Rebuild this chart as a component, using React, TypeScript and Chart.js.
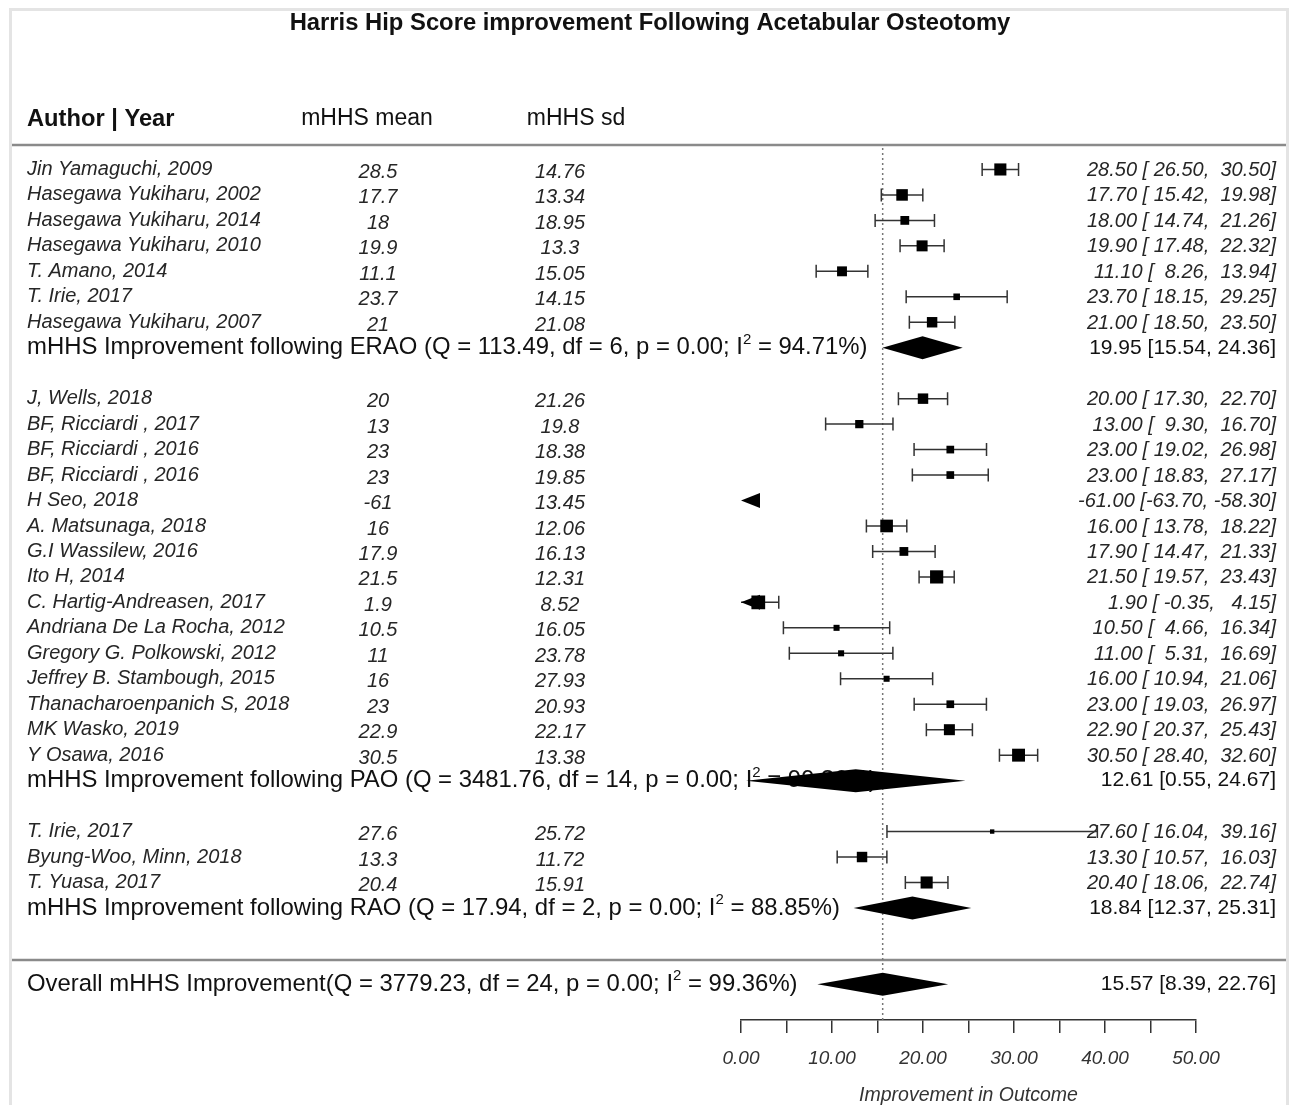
import React, { useEffect, useRef } from "react";
import { Chart, registerables } from "chart.js";

Chart.register(...registerables);

const FONT = "'Liberation Sans', Arial, Helvetica, sans-serif";

const titleText = "Harris Hip Score improvement Following Acetabular Osteotomy";
const headerLabels = ["Author | Year", "mHHS mean", "mHHS sd"];
const axisTitle = "Improvement in Outcome";
const axisMin = 0;
const axisMax = 50;
const axisStep = 5;
const axisLabelStep = 10;

const authors = [
  "Jin Yamaguchi, 2009",
  "Hasegawa Yukiharu, 2002",
  "Hasegawa Yukiharu, 2014",
  "Hasegawa Yukiharu, 2010",
  "T. Amano, 2014",
  "T. Irie, 2017",
  "Hasegawa Yukiharu, 2007",
  "J, Wells, 2018",
  "BF, Ricciardi , 2017",
  "BF, Ricciardi , 2016",
  "BF, Ricciardi , 2016",
  "H Seo, 2018",
  "A. Matsunaga, 2018",
  "G.I Wassilew, 2016",
  "Ito H, 2014",
  "C. Hartig-Andreasen, 2017",
  "Andriana De La Rocha, 2012",
  "Gregory G. Polkowski, 2012",
  "Jeffrey B. Stambough, 2015",
  "Thanacharoenpanich S, 2018",
  "MK Wasko, 2019",
  "Y Osawa, 2016",
  "T. Irie, 2017",
  "Byung-Woo, Minn, 2018",
  "T. Yuasa, 2017",
];
const means = [28.5, 17.7, 18, 19.9, 11.1, 23.7, 21, 20, 13, 23, 23, -61, 16, 17.9, 21.5, 1.9, 10.5, 11, 16, 23, 22.9, 30.5, 27.6, 13.3, 20.4];
const sds = [14.76, 13.34, 18.95, 13.3, 15.05, 14.15, 21.08, 21.26, 19.8, 18.38, 19.85, 13.45, 12.06, 16.13, 12.31, 8.52, 16.05, 23.78, 27.93, 20.93, 22.17, 13.38, 25.72, 11.72, 15.91];
const ciLower = [26.5, 15.42, 14.74, 17.48, 8.26, 18.15, 18.5, 17.3, 9.3, 19.02, 18.83, -63.7, 13.78, 14.47, 19.57, -0.35, 4.66, 5.31, 10.94, 19.03, 20.37, 28.4, 16.04, 10.57, 18.06];
const ciUpper = [30.5, 19.98, 21.26, 22.32, 13.94, 29.25, 23.5, 22.7, 16.7, 26.98, 27.17, -58.3, 18.22, 21.33, 23.43, 4.15, 16.34, 16.69, 21.06, 26.97, 25.43, 32.6, 39.16, 16.03, 22.74];
const weights = [4.4, 4.2, 3.2, 4.0, 3.6, 2.4, 3.8, 3.8, 3.0, 2.8, 2.8, 4.0, 4.6, 3.2, 4.8, 5.0, 2.2, 2.2, 2.2, 2.8, 4.0, 4.7, 1.6, 3.8, 4.4];

const groupNames = ["ERAO", "PAO", "RAO"];
const groupSizes = [7, 15, 3];
const groupEst = [19.95, 12.61, 18.84];
const groupLower = [15.54, 0.55, 12.37];
const groupUpper = [24.36, 24.67, 25.31];
const groupQ = [113.49, 3481.76, 17.94];
const groupDf = [6, 14, 2];
const groupP = [0, 0, 0];
const groupI2 = [94.71, 99.36, 88.85];

const overallEst = 15.57;
const overallLower = 8.39;
const overallUpper = 22.76;
const overallQ = 3779.23;
const overallDf = 24;
const overallP = 0;
const overallI2 = 99.36;

// ---- row layout (derived from group structure) ----
const studyRows: number[] = [];
const groupRows: number[] = [];
let rowCursor = 0;
groupSizes.forEach((n) => {
  for (let i = 0; i < n; i++) studyRows.push(rowCursor++);
  groupRows.push(rowCursor++);
  rowCursor++;
});
const overallRow = rowCursor + 1;
const separatorRow = rowCursor + 0.04;

const pad6 = (v: number) => {
  const s = v.toFixed(2);
  return s.length >= 6 ? s : " ".repeat(6 - s.length) + s;
};
const studyCI = (i: number) => `${means[i].toFixed(2)} [${pad6(ciLower[i])}, ${pad6(ciUpper[i])}]`;
const sumCI = (e: number, l: number, u: number) => `${e.toFixed(2)} [${l.toFixed(2)}, ${u.toFixed(2)}]`;

const STUDY_FONT = `italic 20px ${FONT}`;
const SUM_FONT = `23.9px ${FONT}`;
const SUM_SUP_FONT = `15px ${FONT}`;
const SUMR_FONT = `21px ${FONT}`;
const HEAD_FONT = `23px ${FONT}`;
const HEAD_BOLD = `bold 23.7px ${FONT}`;
const TITLE_FONT = `bold 23.8px ${FONT}`;

const COL_AUTHOR = 27;
const COL_MEAN = 378;
const COL_SD = 560;
const COL_CI = 1276;
const SQUARE_SCALE = 2.75;

function drawStatLabel(ctx: CanvasRenderingContext2D, x: number, y: number, before: string, after: string) {
  ctx.textAlign = "left";
  ctx.font = SUM_FONT;
  ctx.fillText(before, x, y);
  let w = ctx.measureText(before).width;
  ctx.font = SUM_SUP_FONT;
  ctx.fillText("2", x + w, y - 8);
  w += ctx.measureText("2").width;
  ctx.font = SUM_FONT;
  ctx.fillText(after, x + w, y);
}

function diamond(ctx: CanvasRenderingContext2D, xs: any, y: number, e: number, l: number, u: number) {
  const h = 11.5;
  ctx.beginPath();
  ctx.moveTo(xs.getPixelForValue(l), y);
  ctx.lineTo(xs.getPixelForValue(e), y - h);
  ctx.lineTo(xs.getPixelForValue(u), y);
  ctx.lineTo(xs.getPixelForValue(e), y + h);
  ctx.closePath();
  ctx.fillStyle = "#000";
  ctx.fill();
}

function arrow(ctx: CanvasRenderingContext2D, x: number, y: number, dir: number) {
  ctx.beginPath();
  ctx.moveTo(x, y);
  ctx.lineTo(x - dir * 19, y - 7.5);
  ctx.lineTo(x - dir * 19, y + 7.5);
  ctx.closePath();
  ctx.fillStyle = "#000";
  ctx.fill();
}

const forestPlugin = {
  id: "forestPlugin",
  beforeDatasetsDraw(chart: any) {
    const ctx: CanvasRenderingContext2D = chart.ctx;
    const xs = chart.scales.x;
    const ys = chart.scales.y;
    ctx.save();
    ctx.textBaseline = "middle";

    // title
    ctx.fillStyle = "#111";
    ctx.font = TITLE_FONT;
    ctx.textAlign = "center";
    ctx.fillText(titleText, 650, 23);

    // headers
    ctx.font = HEAD_BOLD;
    ctx.textAlign = "left";
    ctx.fillText(headerLabels[0], COL_AUTHOR, 119);
    ctx.font = HEAD_FONT;
    ctx.textAlign = "center";
    ctx.fillText(headerLabels[1], 367, 119);
    ctx.fillText(headerLabels[2], 576, 119);

    // separators
    ctx.strokeStyle = "#8a8a8a";
    ctx.lineWidth = 2.5;
    const sepY1 = ys.top + 1;
    const sepY2 = ys.getPixelForValue(separatorRow);
    [sepY1, sepY2].forEach((yy) => {
      ctx.beginPath();
      ctx.moveTo(12, yy);
      ctx.lineTo(1286, yy);
      ctx.stroke();
    });

    // reference dotted line
    const rx = xs.getPixelForValue(overallEst);
    ctx.strokeStyle = "#777";
    ctx.lineWidth = 1.5;
    ctx.setLineDash([2, 3]);
    ctx.beginPath();
    ctx.moveTo(rx, ys.top + 4);
    ctx.lineTo(rx, ys.bottom);
    ctx.stroke();
    ctx.setLineDash([]);

    // study text
    ctx.fillStyle = "#262626";
    authors.forEach((a, i) => {
      const y = ys.getPixelForValue(studyRows[i]);
      ctx.font = STUDY_FONT;
      ctx.textAlign = "left";
      ctx.fillText(a, COL_AUTHOR, y);
      ctx.textAlign = "center";
      ctx.fillText(String(means[i]), COL_MEAN, y + 3);
      ctx.fillText(String(sds[i]), COL_SD, y + 3);
      ctx.textAlign = "right";
      ctx.fillText(studyCI(i), COL_CI, y + 1);
    });

    // group summaries text
    ctx.fillStyle = "#111";
    groupNames.forEach((g, k) => {
      const y = ys.getPixelForValue(groupRows[k]);
      drawStatLabel(
        ctx,
        COL_AUTHOR,
        y,
        `mHHS Improvement following ${g} (Q = ${groupQ[k].toFixed(2)}, df = ${groupDf[k]}, p = ${groupP[k].toFixed(2)}; I`,
        ` = ${groupI2[k].toFixed(2)}%)`
      );
      ctx.font = SUMR_FONT;
      ctx.textAlign = "right";
      ctx.fillText(sumCI(groupEst[k], groupLower[k], groupUpper[k]), COL_CI, y);
    });
    const oy = ys.getPixelForValue(overallRow);
    drawStatLabel(
      ctx,
      COL_AUTHOR,
      oy,
      `Overall mHHS Improvement(Q = ${overallQ.toFixed(2)}, df = ${overallDf}, p = ${overallP.toFixed(2)}; I`,
      ` = ${overallI2.toFixed(2)}%)`
    );
    ctx.font = SUMR_FONT;
    ctx.textAlign = "right";
    ctx.fillText(sumCI(overallEst, overallLower, overallUpper), COL_CI, oy);

    // error bars
    ctx.strokeStyle = "#333";
    ctx.lineWidth = 1.5;
    const lo = xs.min;
    const hi = xs.max;
    authors.forEach((_, i) => {
      const y = ys.getPixelForValue(studyRows[i]);
      const l = ciLower[i];
      const u = ciUpper[i];
      if (u < lo) {
        arrow(ctx, xs.getPixelForValue(lo), y, -1);
        return;
      }
      if (l > hi) {
        arrow(ctx, xs.getPixelForValue(hi), y, 1);
        return;
      }
      const a = xs.getPixelForValue(Math.max(l, lo));
      const b = xs.getPixelForValue(Math.min(u, hi));
      ctx.beginPath();
      ctx.moveTo(a, y);
      ctx.lineTo(b, y);
      if (l >= lo) {
        ctx.moveTo(a, y - 6.5);
        ctx.lineTo(a, y + 6.5);
      }
      if (u <= hi) {
        ctx.moveTo(b, y - 6.5);
        ctx.lineTo(b, y + 6.5);
      }
      ctx.stroke();
      if (l < lo) arrow(ctx, a, y, -1);
      if (u > hi) arrow(ctx, b, y, 1);
    });
    ctx.restore();
  },
  afterDatasetsDraw(chart: any) {
    const ctx: CanvasRenderingContext2D = chart.ctx;
    const xs = chart.scales.x;
    const ys = chart.scales.y;
    ctx.save();
    groupNames.forEach((_, k) => {
      diamond(ctx, xs, ys.getPixelForValue(groupRows[k]), groupEst[k], groupLower[k], groupUpper[k]);
    });
    diamond(ctx, xs, ys.getPixelForValue(overallRow), overallEst, overallLower, overallUpper);
    ctx.restore();
  },
};

export default function App() {
  const ref = useRef<HTMLCanvasElement>(null);
  useEffect(() => {
    if (!ref.current) return;
    const radii = weights.map((w) => (w * SQUARE_SCALE) / Math.SQRT2);
    const chart = new Chart(ref.current, {
      type: "scatter",
      data: {
        datasets: [
          {
            data: means.map((m, i) => ({ x: m, y: studyRows[i] })),
            pointStyle: "rect",
            pointRadius: radii,
            pointHoverRadius: radii,
            backgroundColor: "#000",
            borderColor: "#000",
            borderWidth: 0,
          },
        ],
      },
      options: {
        responsive: false,
        animation: false,
        events: [],
        layout: { padding: { left: 741, right: 95, top: 144, bottom: 0 } },
        plugins: { legend: { display: false }, tooltip: { enabled: false } },
        scales: {
          x: {
            type: "linear",
            min: axisMin,
            max: axisMax,
            afterFit: (scale: any) => {
              scale.height = 85;
            },
            border: { display: true, color: "#333", width: 1.5 },
            grid: { drawOnChartArea: false, drawTicks: true, tickLength: 13, color: "#333", lineWidth: 1.5 },
            ticks: {
              stepSize: axisStep,
              autoSkip: false,
              maxRotation: 0,
              padding: 14,
              color: "#333",
              font: { family: FONT, size: 19, style: "italic" },
              callback: (v: any) => (Number(v) % axisLabelStep === 0 ? Number(v).toFixed(2) : ""),
            },
            title: {
              display: true,
              text: axisTitle,
              color: "#333",
              font: { family: FONT, size: 19.5, style: "italic" },
              padding: { top: 0, bottom: -2 },
            },
          },
          y: {
            type: "linear",
            min: -1,
            max: 33.4,
            reverse: true,
            display: false,
          },
        },
      },
      plugins: [forestPlugin],
    } as any);
    return () => chart.destroy();
  }, []);
  return (
    <div style={{ position: "fixed", left: 0, top: 0, width: 1291, height: 1105, background: "#fff", overflow: "hidden" }}>
      <div
        style={{
          position: "absolute",
          left: 9,
          top: 8,
          width: 1274,
          height: 1110,
          borderLeft: "3px solid #e4e4e4",
          borderTop: "3px solid #e4e4e4",
          borderRight: "3px solid #e4e4e4",
        }}
      />
      <canvas ref={ref} width={1291} height={1105} style={{ position: "absolute", left: 0, top: 0, width: 1291, height: 1105 }} />
    </div>
  );
}
